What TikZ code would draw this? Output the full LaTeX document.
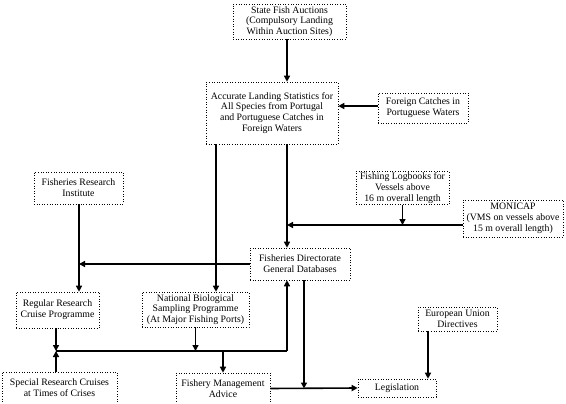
\documentclass[tikz,border=0pt]{standalone}
\usepackage{fontspec}
\setmainfont{Liberation Serif}
\usetikzlibrary{arrows.meta}
\begin{document}
\begin{tikzpicture}[x=1pt,y=-1pt,
  box/.style={draw, dotted, line width=0.6pt, align=center, inner sep=0pt,
    font=\fontsize{9.8}{10.8}\selectfont},
  arr/.style={line width=1.6pt, -{Triangle[length=6pt,width=6pt]}},
  ln/.style={line width=1.6pt}]
\path[use as bounding box] (0,0) rectangle (566,404);
\node[box, minimum width=113, minimum height=35] (SFA) at (289.5,21.5) {State Fish Auctions\\(Compulsory Landing\\Within Auction Sites)};
\node[box, minimum width=132, minimum height=62] (ALS) at (272,113) {Accurate Landing Statistics for\\All Species from Portugal\\and Portuguese Catches in\\Foreign Waters};
\node[box, minimum width=90, minimum height=30] (FC) at (423,108) {Foreign Catches in\\Portuguese Waters};
\node[box, minimum width=93, minimum height=33] (FLB) at (402.5,188) {Fishing Logbooks for\\Vessels above\\16 m overall length};
\node[box, minimum width=100, minimum height=37] (MON) at (513,218.5) {MONICAP\\(VMS on vessels above\\15 m overall length)};
\node[box, minimum width=89, minimum height=32] (FRI) at (78.5,188) {Fisheries Research\\Institute};
\node[box, minimum width=100, minimum height=32] (FDG) at (300,264) {Fisheries Directorate\\General Databases};
\node[box, minimum width=83, minimum height=36] (RRC) at (57.5,310) {Regular Research\\Cruise Programme};
\node[box, minimum width=107, minimum height=35] (NBS) at (195.5,309.5) {National Biological\\Sampling Programme\\(At Major Fishing Ports)};
\node[box, minimum width=115, minimum height=32] (SRC) at (59.5,388) {Special Research Cruises\\at Times of Crises};
\node[box, minimum width=94, minimum height=31] (FMA) at (223,388.5) {Fishery Management\\Advice};
\node[box, minimum width=79, minimum height=24] (EUD) at (457.5,319) {European Union\\Directives};
\node[box, minimum width=78, minimum height=18] (LEG) at (397,388) {Legislation};
\coordinate (xA) at (216,0);
\coordinate (xB) at (287,0);
\coordinate (xC) at (79,0);
\coordinate (xD) at (304,0);
\coordinate (xE) at (428,0);
\coordinate (j1) at (287,225);
\coordinate (jl) at (56,351);
\coordinate (jr) at (287,351);
% connectors
\draw[arr] (SFA.south -| xB) -- (ALS.north -| xB);
\draw[arr] ([yshift=2pt]FC.west) -- ([yshift=2pt]FC.west -| ALS.east);
\draw[arr] (ALS.south -| xA) -- (NBS.north -| xA);
\draw[arr] (ALS.south -| xB) -- (FDG.north -| xB);
\draw[arr] (MON.west |- j1) -- (j1);
\draw[arr] (FLB.south) -- (FLB.south |- j1);
\draw[arr] (FDG.west) -- (FDG.west -| xC);
\draw[arr] (FRI.south -| xC) -- (RRC.north -| xC);
\draw[arr] (RRC.south -| jl) -- (jl);
\draw[arr] (SRC.north -| jl) -- (jl);
\draw[arr] (NBS.south) -- (NBS.south |- jl);
\draw[ln] (jl) -- (jr);
\draw[arr] (jr) -- (FDG.south -| jr);
\draw[arr] (FMA.north |- jl) -- (FMA.north);
\draw[arr] (FDG.south -| xD) -- (xD |- FMA.east);
\draw[arr] (FMA.east) -- (LEG.west);
\draw[arr] (EUD.south -| xE) -- (LEG.north -| xE);
\end{tikzpicture}
\end{document}
